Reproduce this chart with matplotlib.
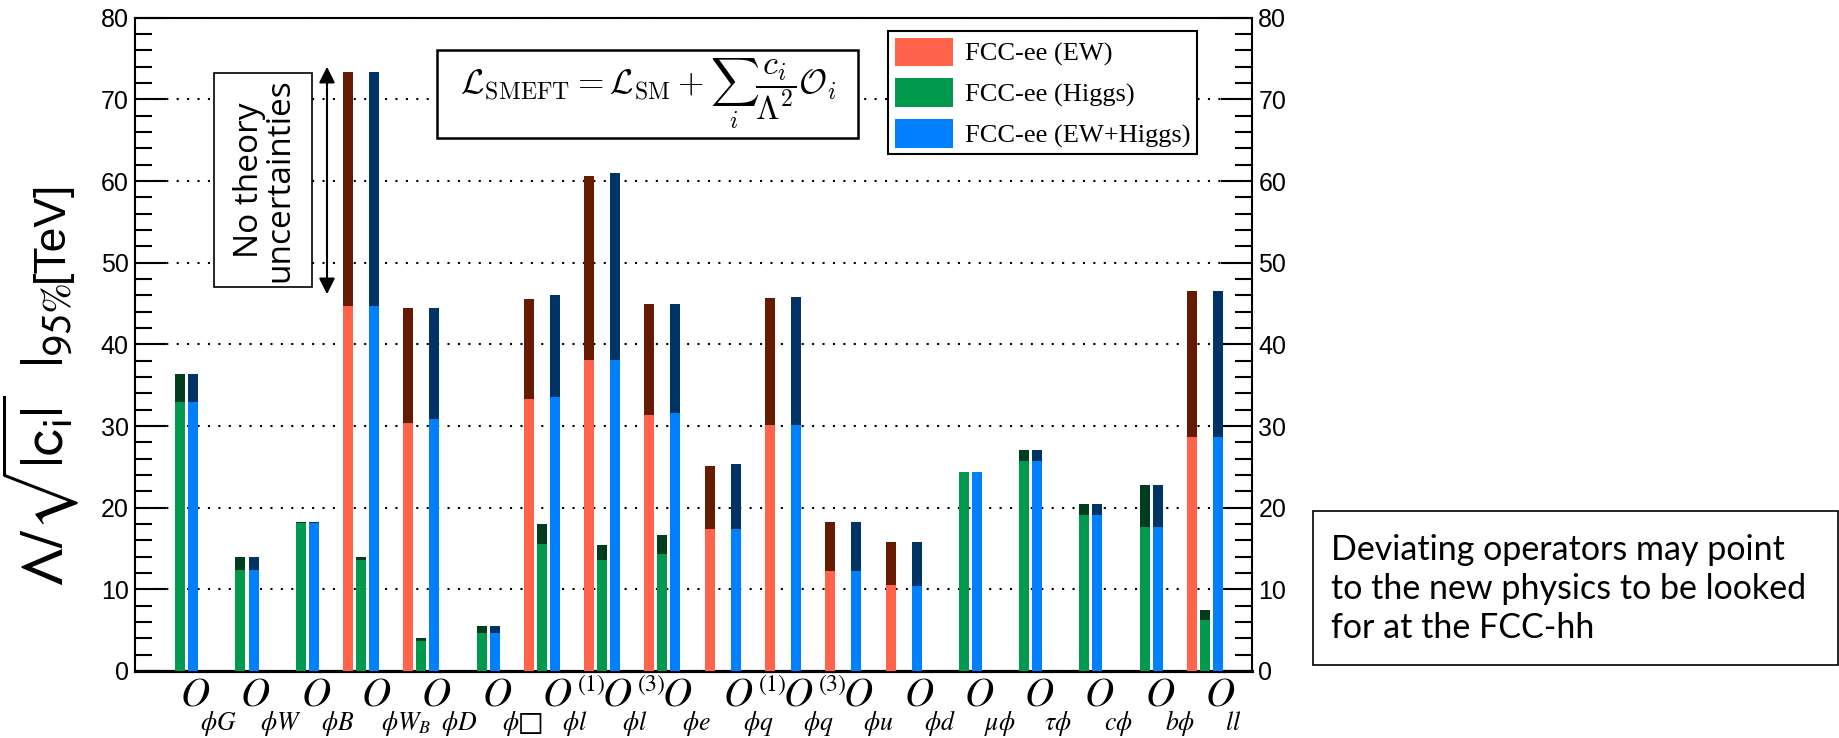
import numpy as np
import matplotlib
matplotlib.use("Agg")
import matplotlib.pyplot as plt
import matplotlib.transforms as mtransforms
from matplotlib.patches import Patch, Rectangle, FancyArrowPatch
from matplotlib.ticker import MultipleLocator

# ---------------- data ----------------
sub_labels = [r"\phi G", r"\phi W", r"\phi B", r"\phi W_B", r"\phi D", r"\phi□",
              r"\phi l", r"\phi l", r"\phi e", r"\phi q", r"\phi q", r"\phi u",
              r"\phi d", r"\mu\phi", r"\tau\phi", r"c\phi", r"b\phi", r"ll"]
sup_labels = ["", "", "", "", "", "", "(1)", "(3)", "", "(1)", "(3)", "",
              "", "", "", "", "", ""]
nan = np.nan
# FCC-ee (EW): with theory uncertainties / without
ew_th   = [nan, nan, nan, 44.7, 30.4, nan, 33.3, 38.1, 31.3, 17.4, 30.1, 12.3, 10.5, nan, nan, nan, nan, 28.6]
ew_noth = [nan, nan, nan, 73.3, 44.5, nan, 45.6, 60.6, 44.9, 25.1, 45.7, 18.2, 15.75, nan, nan, nan, nan, 46.5]
# FCC-ee (Higgs)
h_th    = [33.0, 12.4, 18.1, 13.6, 3.7, 4.7, 15.6, 13.6, 14.3, nan, nan, nan, nan, 24.4, 25.75, 19.1, 17.6, 6.2]
h_noth  = [36.4, 13.9, 18.2, 13.9, 4.1, 5.55, 18.0, 15.4, 16.65, nan, nan, nan, nan, 24.4, 27.1, 20.4, 22.8, 7.5]
# FCC-ee (EW+Higgs)
c_th    = [33.0, 12.4, 18.1, 44.7, 30.8, 4.7, 33.6, 38.1, 31.6, 17.4, 30.1, 12.3, 10.4, 24.4, 25.7, 19.1, 17.6, 28.7]
c_noth  = [36.4, 13.9, 18.2, 73.3, 44.5, 5.55, 46.0, 61.0, 45.0, 25.3, 45.8, 18.2, 15.75, 24.4, 27.1, 20.4, 22.8, 46.5]

series_names = ["FCC-ee (EW)", "FCC-ee (Higgs)", "FCC-ee (EW+Higgs)"]
light_cols = ["#ff634a", "#00994d", "#0080ff"]
dark_cols = ["#661a00", "#003d1f", "#003366"]

# ---------------- figure ----------------
W, H = 1840, 738
fig = plt.figure(figsize=(W / 100, H / 100), dpi=100)
ax = fig.add_axes([135 / W, (H - 671) / H, (1252 - 135) / W, (671 - 17.7) / H])

x = np.arange(len(sub_labels))
offsets = [-0.216, 0.0, 0.216]
bw = 0.166
for k, (th, noth) in enumerate([(ew_th, ew_noth), (h_th, h_noth), (c_th, c_noth)]):
    th = np.asarray(th, float)
    noth = np.asarray(noth, float)
    m = ~np.isnan(noth)
    ax.bar(x[m] + offsets[k], noth[m], bw, color=dark_cols[k], zorder=2, linewidth=0)
    ax.bar(x[m] + offsets[k], th[m], bw, color=light_cols[k], zorder=3, linewidth=0)

ax.set_xlim(-0.75, 17.78)
ax.set_ylim(0, 80)
ax.set_xticks([])
ax.yaxis.set_major_locator(MultipleLocator(10))
ax.yaxis.set_minor_locator(MultipleLocator(2))
ax.tick_params(axis="y", which="major", direction="in", length=22, width=1.5,
               left=True, right=True, labelleft=True, labelright=True, labelsize=18, pad=4.5)
ax.tick_params(axis="y", which="minor", direction="in", length=12, width=1.5,
               left=True, right=True)
for lab in ax.get_yticklabels():
    lab.set_family("Liberation Sans")
ax.yaxis.grid(True, which="major", linestyle=(0, (1, 4)), color="black", linewidth=1.5, zorder=1)
ax.set_axisbelow(True)
for s in ["left", "right", "top"]:
    ax.spines[s].set_linewidth(1.5)
ax.spines["bottom"].set_linewidth(2.3)

# y-axis title: math part then unit, stacked along the rotated baseline
t_math = fig.text(63 / W, (H - 587) / H,
                  r"$\Lambda/\sqrt{|\mathrm{c_i}|}\ \ |_{\mathit{95\%}}$",
                  rotation=90, rotation_mode="anchor", ha="left", va="baseline",
                  fontsize=43, math_fontfamily="stixsans")
fig.canvas.draw()
bb = t_math.get_window_extent()
fig.text(63 / W, (bb.y1 + 1) / H, "[TeV]", rotation=90, rotation_mode="anchor",
         ha="left", va="baseline", fontsize=32, family="Liberation Sans")

# ---------------- category labels ----------------
base = mtransforms.blended_transform_factory(ax.transData, fig.transFigure)
for i in range(len(sub_labels)):
    has_sup = sup_labels[i] != ""
    y_main = (H - 705) / H
    y_sub = (H - 730) / H
    ax.text(x[i], y_main, r"$O$", transform=base, ha="left", va="baseline",
            fontsize=29, math_fontfamily="stix", clip_on=False)
    t_sub = mtransforms.offset_copy(base, fig=fig, x=20, y=0, units="dots")
    ax.text(x[i], y_sub, "$" + sub_labels[i] + "$", transform=t_sub, ha="left",
            va="baseline", fontsize=18.5, math_fontfamily="stix", clip_on=False)
    if has_sup:
        t_sup = mtransforms.offset_copy(base, fig=fig, x=35, y=0, units="dots")
        ax.text(x[i], (H - 691) / H, r"$\mathit{" + sup_labels[i] + "}$",
                transform=t_sup, ha="left", va="baseline", fontsize=17,
                math_fontfamily="stix", clip_on=False)

# ---------------- legend ----------------
handles = [Patch(facecolor=c, edgecolor="none") for c in light_cols]
leg = ax.legend(handles, series_names, loc="upper left",
                bbox_to_anchor=(888 / W, (H - 31) / H), bbox_transform=fig.transFigure,
                prop={"family": "Liberation Serif", "size": 19},
                handlelength=2.2, handleheight=1.3, handletextpad=0.45,
                labelspacing=0.45, borderpad=0.25, borderaxespad=0,
                fancybox=False, framealpha=1, edgecolor="black")
leg.get_frame().set_linewidth(1.5)
leg.set_zorder(10)

# ---------------- formula box ----------------
fig.add_artist(Rectangle((437 / W, (H - 138) / H), 421 / W, 88 / H, transform=fig.transFigure,
                         facecolor="white", edgecolor="black", linewidth=1.8, zorder=5))
fig.text(648 / W, (H - 94) / H,
         r"$\mathcal{L}_{\rm SMEFT} = \mathcal{L}_{\rm SM} + \sum_i \dfrac{c_i}{\Lambda^2}\mathcal{O}_i$",
         ha="center", va="center", fontsize=24.5, math_fontfamily="cm", zorder=6)

# ---------------- "No theory uncertainties" ----------------
fig.add_artist(Rectangle((214 / W, (H - 287) / H), 98 / W, 214 / H, transform=fig.transFigure,
                         facecolor="white", edgecolor="black", linewidth=1.2, zorder=5))
fig.text(265 / W, (H - 180) / H, "No theory\nuncertainties", rotation=90, ha="center",
         va="center", fontsize=24, family="Open Sans", linespacing=0.9, zorder=6)
fig.add_artist(FancyArrowPatch((327 / W, (H - 297) / H), (327 / W, (H - 64) / H),
                               transform=fig.transFigure, arrowstyle="<|-|>",
                               mutation_scale=24, linewidth=1.5, color="black", zorder=6))

# ---------------- side note ----------------
fig.add_artist(Rectangle((1313 / W, (H - 665) / H), (W - 1.5 - 1313) / W, 154 / H,
                         transform=fig.transFigure, facecolor="white", edgecolor="black",
                         linewidth=1.2, zorder=5))
fig.text(1331 / W, (H - 589) / H,
         "Deviating operators may point\nto the new physics to be looked\nfor at the FCC-hh",
         ha="left", va="center", fontsize=24.5, family="Lato", linespacing=1.25, zorder=6)

fig.savefig("out.png", dpi=100)
